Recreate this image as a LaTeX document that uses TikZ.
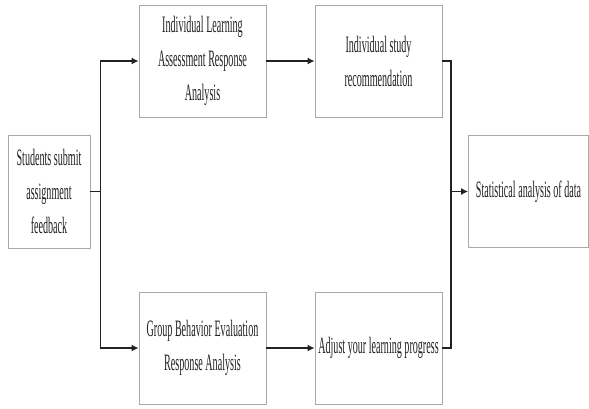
\documentclass[tikz,border=0pt]{standalone}
\usepackage{fontspec}
\setmainfont[FakeStretch=0.43]{Liberation Serif}
\usetikzlibrary{arrows.meta}
\definecolor{boxgray}{HTML}{A8A8A8}
\definecolor{inkgray}{HTML}{222222}
\tikzset{blk/.style={draw=boxgray,fill=white,line width=.8pt,minimum width=127pt,minimum height=112pt,
  align=center,inner sep=0pt,text=inkgray,font=\fontsize{23.5}{34}\selectfont},
 ln/.style={inkgray,line width=1.3pt},
 arr/.style={ln,-{Latex[length=7pt,width=7pt]}}}

\begin{document}
\begin{tikzpicture}[x=1pt,y=-1pt]
 \useasboundingbox(0,0)rectangle(589,408);
 % boxes
 \node[blk,minimum width=82pt,minimum height=113pt](stu)at(49,191.5){Students submit\\assignment\\feedback};
 \node[blk](ila)at(202.5,61){Individual Learning\\Assessment Response\\Analysis};
 \node[blk](isr)at(378.5,61){Individual study\\recommendation};
 \node[blk](gbe)at(202.5,348){Group Behavior Evaluation\\Response Analysis};
 \node[blk](alp)at(378.5,348){Adjust your learning progress};
 \node[blk,minimum width=120pt](sad)at(528.5,191.5){Statistical analysis of data};
 % split
 \draw[ln](stu.east)--++(10,0)coordinate(lj);
 \draw[arr](lj)|-(ila.west);
 \draw[arr](lj)|-(gbe.west);
 \draw[arr](ila)--(isr);
 \draw[arr](gbe)--(alp);
 % merge
 \coordinate(rj)at(451,191.5);
 \draw[ln](isr.east)-|(rj);
 \draw[ln](alp.east)-|(rj);
 \draw[arr](rj)--(sad.west);
\end{tikzpicture}
\end{document}
